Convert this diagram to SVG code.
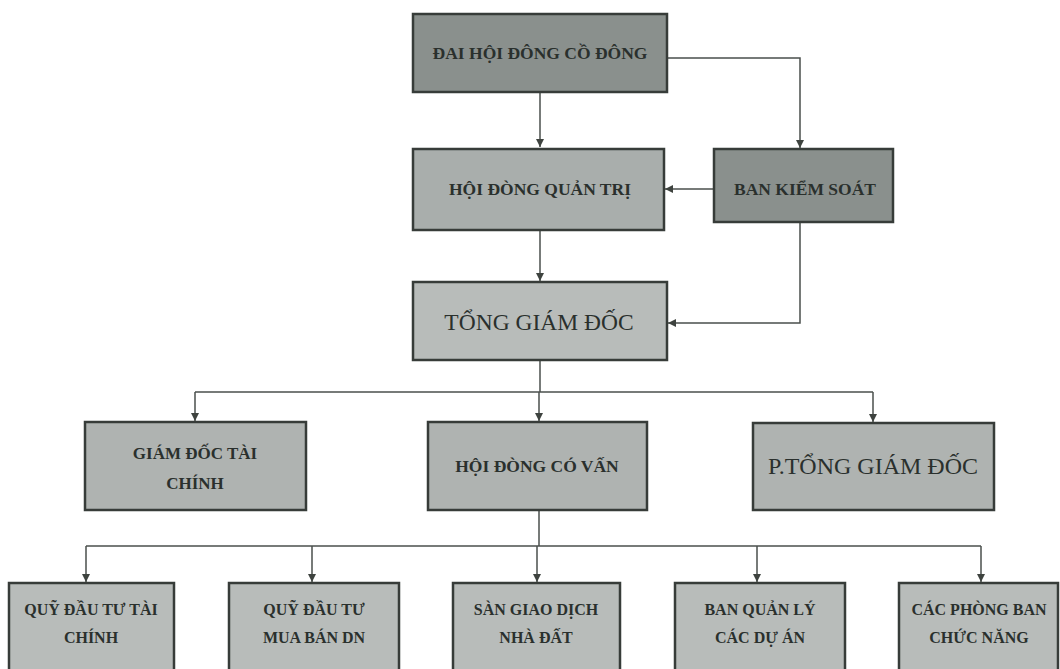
<svg xmlns="http://www.w3.org/2000/svg" width="1060" height="669" viewBox="0 0 1060 669">
<defs>
<style>
.box{stroke:#373c39;stroke-width:2.5}
.dark{fill:#8a908d}
.mid{fill:#a9aeac}
.l3{fill:#afb3b1}
.light{fill:#b8bcba}
.t{font-family:"Liberation Serif","DejaVu Serif",serif;font-weight:bold;fill:#2a302d;text-anchor:middle}
.tn{font-family:"Liberation Serif","DejaVu Serif",serif;fill:#2a302d;text-anchor:middle}
.c{fill:none;stroke:#4a4f4c;stroke-width:1.5}
</style>
<marker id="ah" viewBox="0 0 10 10" refX="10" refY="5" markerWidth="8" markerHeight="8" markerUnits="userSpaceOnUse" orient="auto">
<path d="M0,0 L10,5 L0,10 Z" fill="#3e433f"/>
</marker>
</defs>
<rect width="1060" height="669" fill="#ffffff"/>
<g id="connectors">
<path class="c" d="M540,92 V147" marker-end="url(#ah)"/>
<path class="c" d="M667,58 H800 V148" marker-end="url(#ah)"/>
<path class="c" d="M714,189 H665" marker-end="url(#ah)"/>
<path class="c" d="M540,230 V281" marker-end="url(#ah)"/>
<path class="c" d="M800,222 V323 H668" marker-end="url(#ah)"/>
<path class="c" d="M540,360 V392"/>
<path class="c" d="M195,392 H873"/>
<path class="c" d="M195,392 V421" marker-end="url(#ah)"/>
<path class="c" d="M539,392 V421" marker-end="url(#ah)"/>
<path class="c" d="M873,392 V422" marker-end="url(#ah)"/>
<path class="c" d="M539,510 V546"/>
<path class="c" d="M86,546 H981"/>
<path class="c" d="M86,546 V582" marker-end="url(#ah)"/>
<path class="c" d="M312,546 V582" marker-end="url(#ah)"/>
<path class="c" d="M537,546 V582" marker-end="url(#ah)"/>
<path class="c" d="M757,546 V582" marker-end="url(#ah)"/>
<path class="c" d="M981,546 V582" marker-end="url(#ah)"/>
</g>
<g id="dhdcd">
<rect class="box dark" x="413" y="14" width="254" height="78"/>
<text class="t" x="540" y="59" font-size="17.5">ĐAI HỘI ĐÔNG CỒ ĐÔNG</text>
</g>
<g id="hdqt">
<rect class="box mid" x="413" y="149" width="251" height="81"/>
<text class="t" x="540" y="195" font-size="17.5">HỘI ĐÒNG QUẢN TRỊ</text>
</g>
<g id="bks">
<rect class="box dark" x="714" y="149" width="179" height="73"/>
<text class="t" x="805" y="195" font-size="17.5">BAN KIỂM SOÁT</text>
</g>
<g id="tgd">
<rect class="box light" x="413" y="282" width="254" height="78"/>
<text class="tn" x="539" y="330" font-size="23.5">TỔNG GIÁM ĐỐC</text>
</g>
<g id="gdtc">
<rect class="box l3" x="85" y="422" width="221" height="88"/>
<text class="t" x="195" y="459" font-size="17">GIÁM ĐỐC TÀI</text>
<text class="t" x="195" y="489" font-size="17">CHÍNH</text>
</g>
<g id="hdcv">
<rect class="box l3" x="428" y="422" width="219" height="88"/>
<text class="t" x="537" y="472" font-size="17.5">HỘI ĐÒNG CÓ VẤN</text>
</g>
<g id="ptgd">
<rect class="box l3" x="753" y="423" width="241" height="87"/>
<text class="tn" x="873" y="474" font-size="24">P.TỔNG GIÁM ĐỐC</text>
</g>
<g id="q1">
<rect class="box light" x="9" y="583" width="165" height="95"/>
<text class="t" x="91" y="615" font-size="16">QUỸ ĐẦU TƯ TÀI</text>
<text class="t" x="91" y="643" font-size="16">CHÍNH</text>
</g>
<g id="q2">
<rect class="box light" x="229" y="583" width="170" height="95"/>
<text class="t" x="314" y="615" font-size="16">QUỸ ĐẦU TƯ</text>
<text class="t" x="314" y="643" font-size="16">MUA BÁN DN</text>
</g>
<g id="sgd">
<rect class="box light" x="453" y="583" width="167" height="95"/>
<text class="t" x="536" y="615" font-size="16">SÀN GIAO DỊCH</text>
<text class="t" x="536" y="643" font-size="16">NHÀ ĐẤT</text>
</g>
<g id="bql">
<rect class="box light" x="675" y="583" width="170" height="95"/>
<text class="t" x="760" y="615" font-size="16">BAN QUẢN LÝ</text>
<text class="t" x="760" y="643" font-size="16">CÁC DỰ ÁN</text>
</g>
<g id="cpb">
<rect class="box light" x="899" y="583" width="159" height="95"/>
<text class="t" x="979" y="615" font-size="16">CÁC PHÒNG BAN</text>
<text class="t" x="979" y="643" font-size="16">CHỨC NĂNG</text>
</g>
</svg>
